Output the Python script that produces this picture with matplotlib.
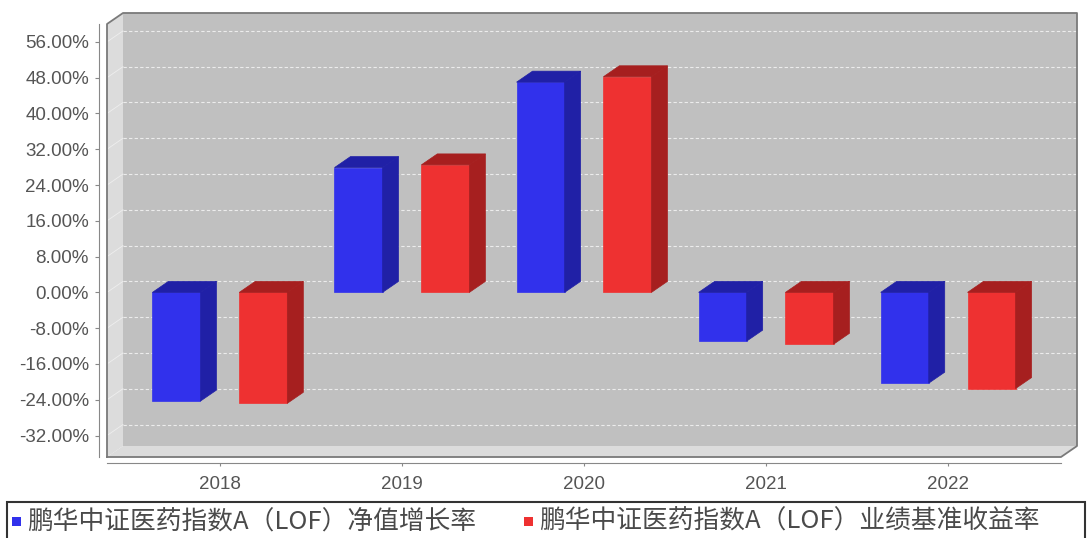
import matplotlib
matplotlib.use('Agg')
import matplotlib.pyplot as plt
from matplotlib.patches import Polygon, Rectangle

plt.rcParams['font.family'] = ['Liberation Sans', 'Noto Sans CJK SC']

years = ['2018', '2019', '2020', '2021', '2022']
nav_growth = [-24.3, 27.9, 47.0, -10.9, -20.3]
benchmark = [-24.8, 28.5, 48.2, -11.6, -21.5]
series_names = ['鹏华中证医药指数A（LOF）净值增长率', '鹏华中证医药指数A（LOF）业绩基准收益率']
yticks = [-32, -24, -16, -8, 0, 8, 16, 24, 32, 40, 48, 56]

W, H = 1090, 538
fig = plt.figure(figsize=(W / 100, H / 100), dpi=100)
fig.patch.set_facecolor('white')

# front plane of the 3D plot
ax = fig.add_axes([107 / W, 1 - 457 / H, 954 / W, 433 / H])
ax.set_xlim(-0.62, 4.62)
ax.set_ylim(-36.8, 60)
ax.patch.set_visible(False)

x0, x1 = ax.get_xlim()
y0, y1 = ax.get_ylim()
# depth offset (16px right, 11px up) in data units
dx = 16 * (x1 - x0) / 954
dy = 11 * (y1 - y0) / 433

wall = '#dcdcdc'
back = '#c0c0c0'
edge = '#888888'

ax.add_patch(Rectangle((x0 + dx, y0 + dy), x1 - x0, y1 - y0, facecolor=back,
                       edgecolor='none', zorder=0, clip_on=False))
ax.add_patch(Polygon([(x0, y0), (x0, y1), (x0 + dx, y1 + dy), (x0 + dx, y0 + dy)],
                     closed=True, facecolor=wall, edgecolor='none', zorder=0, clip_on=False))
ax.add_patch(Polygon([(x0, y0), (x1, y0), (x1 + dx, y0 + dy), (x0 + dx, y0 + dy)],
                     closed=True, facecolor=wall, edgecolor='none', zorder=0, clip_on=False))

for t in yticks:
    ax.plot([x0 + dx, x1 + dx], [t + dy, t + dy], color='#ececec', lw=0.8,
            dashes=(3, 2), zorder=1, clip_on=False)
    ax.plot([x0, x0 + dx], [t, t + dy], color='#eeeeee', lw=0.6, zorder=1, clip_on=False)

ax.plot([x0, x0, x0 + dx, x1 + dx, x1 + dx, x1, x0],
        [y0, y1, y1 + dy, y1 + dy, y0 + dy, y0, y0],
        color='#7a7a7a', lw=1.3, zorder=1, clip_on=False)

bw = 0.264
off = 0.2385
pos = range(len(years))
styles = [(nav_growth, -off, '#3131ec', '#2020a6'),
          (benchmark, off, '#ee3131', '#a61f1f')]

for vals, o, front, dark in styles:
    bars = ax.bar([p + o for p in pos], vals, width=bw, color=front,
                  edgecolor=front, lw=0.5, zorder=3)
    for r in bars:
        x, y, w, h = r.get_x(), r.get_y(), r.get_width(), r.get_height()
        lo, hi = min(y, y + h), max(y, y + h)
        ax.add_patch(Polygon([(x + w, lo), (x + w + dx, lo + dy), (x + w + dx, hi + dy), (x + w, hi)],
                             closed=True, facecolor=dark, edgecolor=dark, lw=0.5, zorder=3, clip_on=False))
        ax.add_patch(Polygon([(x, hi), (x + dx, hi + dy), (x + w + dx, hi + dy), (x + w, hi)],
                             closed=True, facecolor=dark, edgecolor=dark, lw=0.5, zorder=3, clip_on=False))

ax.spines['top'].set_visible(False)
ax.spines['right'].set_visible(False)
ax.spines['left'].set_position(('outward', 6))
ax.spines['bottom'].set_position(('outward', 4))
ax.spines['left'].set_color(edge)
ax.spines['bottom'].set_color(edge)

ax.set_yticks(yticks)
ax.set_yticklabels(['{:.2f}%'.format(t) for t in yticks])
ax.set_xticks(list(pos))
ax.set_xticklabels(years)
ax.tick_params(axis='y', length=3, color=edge, labelcolor='#555555', labelsize=13.5, pad=4)
ax.tick_params(axis='x', length=2, color=edge, labelcolor='#555555', labelsize=13.5, pad=8)

# legend box along the bottom
fig.patches.append(Rectangle((7 / W, -0.02), 1078 / W, 0.02 + 1 - 502 / H, transform=fig.transFigure,
                             facecolor='none', edgecolor='#333333', lw=1.5))
for sx, col, name in [(12, '#3131ec', series_names[0]), (524, '#ee3131', series_names[1])]:
    fig.patches.append(Rectangle((sx / W, 1 - 526 / H), 9 / W, 9 / H, transform=fig.transFigure,
                                 facecolor=col, edgecolor='none'))
    fig.text((sx + 15) / W, 1 - 522 / H, name, fontsize=18.5, color='#4a4a4a',
             family=['Noto Sans CJK SC', 'DejaVu Sans'], va='center', ha='left')

fig.savefig('out.png', dpi=100)
